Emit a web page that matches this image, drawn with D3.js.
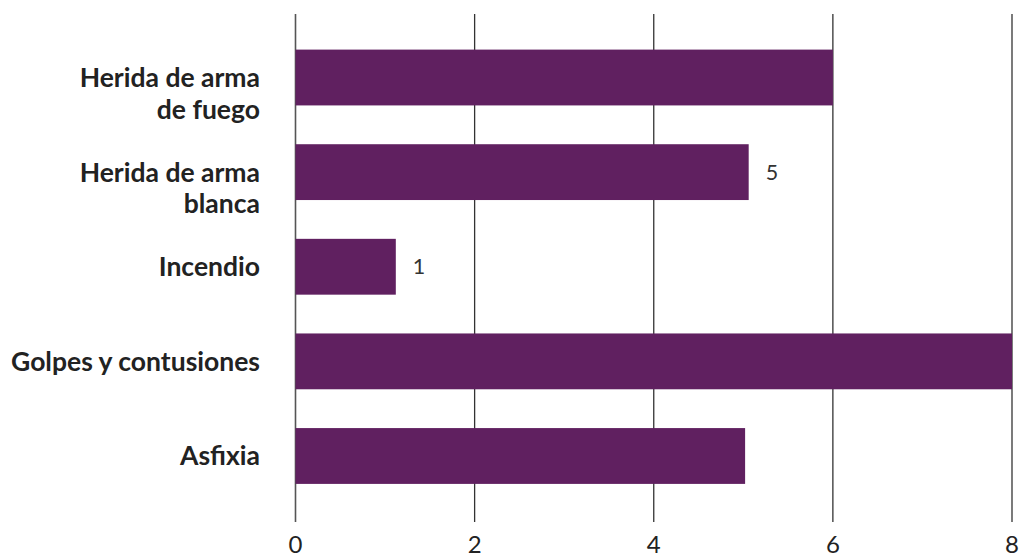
<!DOCTYPE html>
<html><head><meta charset="utf-8">
<script src="https://cdn.jsdelivr.net/npm/d3@7"></script>
<style>
html,body{margin:0;padding:0;background:#fff;}
svg{display:block;}
</style></head>
<body>
<svg id="chart" width="1022" height="559"></svg>
<script>
const categories = [["Herida de arma","de fuego"],["Herida de arma","blanca"],["Incendio"],["Golpes y contusiones"],["Asfixia"]];
const values = [6, 5.06, 1.12, 8, 5.02];
const valueLabels = ["", "5", "1", "", ""];
const ticks = [0, 2, 4, 6, 8];

const svg = d3.select("#chart");
const x = d3.scaleLinear().domain([0, 8]).range([295.5, 1012]);
const keys = categories.map((c, i) => i);
const y = d3.scaleBand().domain(keys).range([30.2, 503.3]).paddingInner(0.41).paddingOuter(0.205);

// gridlines
svg.append("g").selectAll("line").data(ticks).join("line")
  .attr("x1", d => x(d)).attr("x2", d => x(d))
  .attr("y1", 14).attr("y2", 522)
  .attr("stroke", d => d === 0 ? "#555" : "#333")
  .attr("stroke-width", d => d === 0 ? 1.6 : 1.3);

// bars
svg.append("g").selectAll("rect").data(values).join("rect")
  .attr("x", x(0)).attr("y", (d, i) => y(i))
  .attr("width", d => x(d) - x(0)).attr("height", y.bandwidth())
  .attr("fill", "#602060");

// value labels
svg.append("g").selectAll("text").data(values).join("text")
  .attr("x", d => x(d) + 17).attr("y", (d, i) => y(i) + y.bandwidth() / 2)
  .attr("dy", "0.35em")
  .attr("font-family", "Lato, sans-serif").attr("font-size", 21.5)
  .attr("fill", "#333")
  .text((d, i) => valueLabels[i]);

// category labels
const cat = svg.append("g").selectAll("text").data(categories).join("text")
  .attr("x", 260).attr("y", (d, i) => y(i) + y.bandwidth() / 2 + 9.5)
  .attr("text-anchor", "end")
  .attr("font-family", "Lato, sans-serif").attr("font-weight", 700)
  .attr("font-size", 26.5).attr("fill", "#222");
cat.selectAll("tspan").data(d => d).join("tspan")
  .attr("x", 260).attr("dy", (d, j) => j === 0 ? 0 : 31.5)
  .text(d => d);

// x axis tick labels
svg.append("g").selectAll("text").data(ticks).join("text")
  .attr("x", d => x(d)).attr("y", 553)
  .attr("text-anchor", "middle")
  .attr("font-family", "Lato, sans-serif").attr("font-weight", 400)
  .attr("font-size", 24).attr("fill", "#222")
  .text(d => d);
</script>
</body></html>
